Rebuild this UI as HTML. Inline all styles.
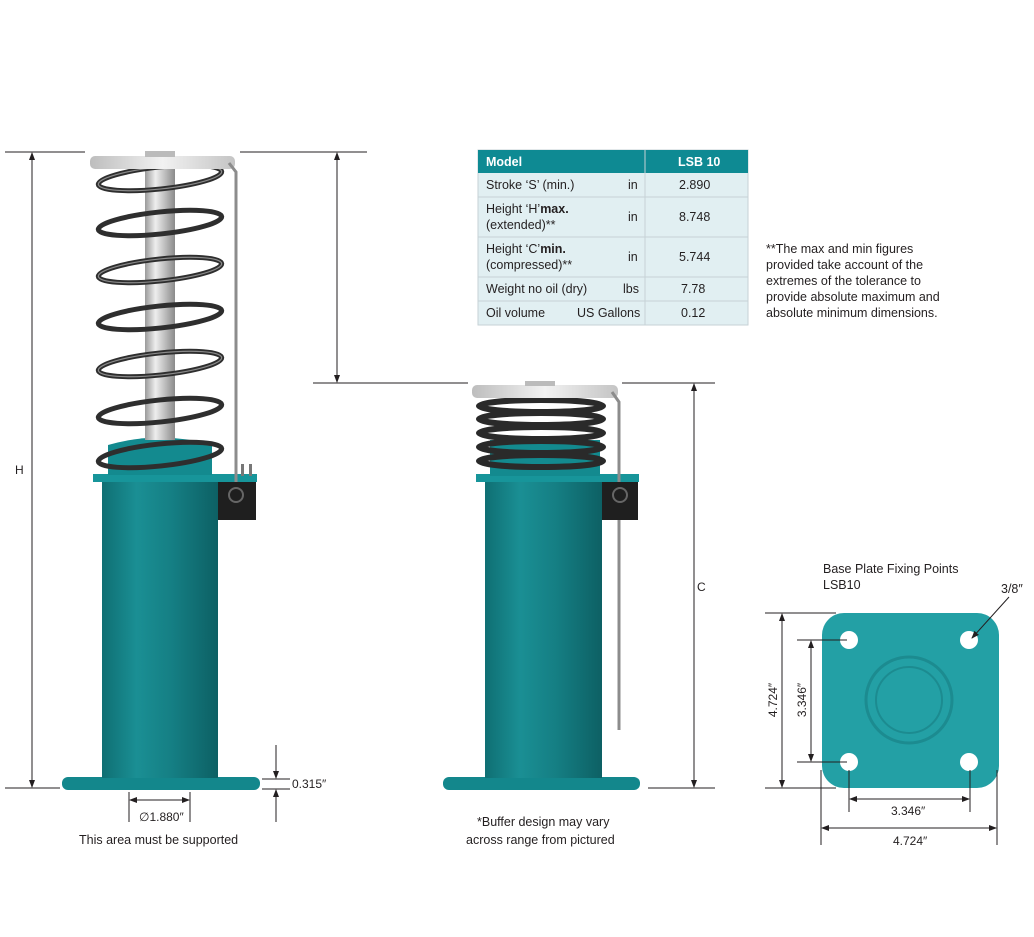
<!DOCTYPE html>
<html><head><meta charset="utf-8"><style>
body{margin:0;background:#fff;width:1034px;height:932px;overflow:hidden;font-family:"Liberation Sans",sans-serif;}
svg text{font-family:"Liberation Sans",sans-serif;fill:#231f20;}
</style></head><body>
<svg width="1034" height="932" viewBox="0 0 1034 932" xmlns="http://www.w3.org/2000/svg">
<defs>
<linearGradient id="teal" x1="0" x2="1" y1="0" y2="0">
<stop offset="0" stop-color="#0f6f73"/><stop offset="0.3" stop-color="#1a8f94"/><stop offset="0.6" stop-color="#157f84"/><stop offset="1" stop-color="#0d6064"/></linearGradient>
<linearGradient id="rod" x1="0" x2="1"><stop offset="0" stop-color="#9a9a9a"/><stop offset="0.35" stop-color="#eeeeee"/><stop offset="0.7" stop-color="#b8b8b8"/><stop offset="1" stop-color="#8a8a8a"/></linearGradient>
<linearGradient id="plate" x1="0" x2="1"><stop offset="0" stop-color="#bdbdbd"/><stop offset="0.5" stop-color="#f2f2f2"/><stop offset="1" stop-color="#c4c4c4"/></linearGradient>
<marker id="ar" markerWidth="8" markerHeight="8" refX="7" refY="4" orient="auto-start-reverse" markerUnits="userSpaceOnUse"><path d="M0,1 L8,4 L0,7 z" fill="#231f20"/></marker>
</defs>

<!-- dimension lines left -->
<g stroke="#231f20" stroke-width="1" fill="none">
<line x1="5" y1="152" x2="85" y2="152"/><line x1="240" y1="152" x2="367" y2="152"/>
<line x1="32" y1="153" x2="32" y2="787" marker-start="url(#ar)" marker-end="url(#ar)"/>
<line x1="5" y1="788" x2="60" y2="788"/>
<line x1="337" y1="153" x2="337" y2="382" marker-start="url(#ar)" marker-end="url(#ar)"/>
<line x1="313" y1="383" x2="468" y2="383"/><line x1="622" y1="383" x2="715" y2="383"/>
<line x1="694" y1="384" x2="694" y2="787" marker-start="url(#ar)" marker-end="url(#ar)"/>
<line x1="648" y1="788" x2="715" y2="788"/>
<!-- 0.315 -->
<line x1="262" y1="779" x2="290" y2="779"/><line x1="262" y1="789" x2="290" y2="789"/>
<line x1="276" y1="745" x2="276" y2="778" marker-end="url(#ar)"/>
<line x1="276" y1="822" x2="276" y2="790" marker-end="url(#ar)"/>
<!-- dia 1.880 -->
<line x1="129" y1="792" x2="129" y2="822"/><line x1="190" y1="792" x2="190" y2="822"/>
<line x1="130" y1="800" x2="189" y2="800" marker-start="url(#ar)" marker-end="url(#ar)"/>
</g>
<text x="15" y="474" font-size="12">H</text>
<text x="697" y="591" font-size="12">C</text>
<text x="292" y="788" font-size="12">0.315″</text>
<text x="139" y="821" font-size="12">∅1.880″</text>
<text x="79" y="844" font-size="12.5">This area must be supported</text>
<text x="477" y="826" font-size="12.5">*Buffer design may vary</text>
<text x="466" y="844" font-size="12.5">across range from pictured</text>

<!-- LEFT BUFFER -->
<rect x="62" y="777" width="198" height="13" rx="6" fill="#13878c"/>
<rect x="102" y="478" width="116" height="300" fill="url(#teal)"/>
<rect x="93" y="474" width="164" height="8" fill="#17959a"/>
<path d="M108,475 L108,445 Q160,430 212,445 L212,475 z" fill="#138a8f"/>
<rect x="145" y="165" width="30" height="275" fill="url(#rod)"/>
<g fill="none" stroke="#2e2e2e" stroke-width="5">
<ellipse cx="160" cy="178" rx="62" ry="11" transform="rotate(-6 160 178)"/>
<ellipse cx="160" cy="223" rx="62" ry="11" transform="rotate(-6 160 223)"/>
<ellipse cx="160" cy="270" rx="62" ry="11" transform="rotate(-6 160 270)"/>
<ellipse cx="160" cy="317" rx="62" ry="11" transform="rotate(-6 160 317)"/>
<ellipse cx="160" cy="364" rx="62" ry="11" transform="rotate(-6 160 364)"/>
<ellipse cx="160" cy="411" rx="62" ry="11" transform="rotate(-6 160 411)"/>
<ellipse cx="160" cy="455" rx="62" ry="11" transform="rotate(-6 160 455)"/>
</g>
<g fill="none" stroke="#8a8a8a" stroke-width="1.2">
<ellipse cx="160" cy="178" rx="62" ry="11" transform="rotate(-6 160 178)"/>
<ellipse cx="160" cy="270" rx="62" ry="11" transform="rotate(-6 160 270)"/>
<ellipse cx="160" cy="364" rx="62" ry="11" transform="rotate(-6 160 364)"/>
</g>
<rect x="90" y="156" width="145" height="13" rx="5" fill="url(#plate)"/>
<rect x="145" y="151" width="30" height="6" fill="#bbb"/>
<path d="M229,163 L236,172 L236,500" stroke="#8c8c8c" stroke-width="3" fill="none"/>
<rect x="218" y="482" width="38" height="38" fill="#1f1f1f"/>
<circle cx="236" cy="495" r="7" fill="none" stroke="#666" stroke-width="2"/>
<rect x="241" y="464" width="3" height="12" fill="#777"/><rect x="249" y="464" width="3" height="12" fill="#777"/>

<!-- RIGHT BUFFER -->
<rect x="443" y="777" width="197" height="13" rx="6" fill="#13878c"/>
<rect x="485" y="478" width="117" height="300" fill="url(#teal)"/>
<rect x="476" y="474" width="163" height="8" fill="#17959a"/>
<rect x="490" y="440" width="110" height="36" fill="#138a8f"/>
<g fill="none" stroke="#2a2a2a" stroke-width="6">
<ellipse cx="541" cy="406" rx="62" ry="6"/>
<ellipse cx="541" cy="419" rx="62" ry="6"/>
<ellipse cx="541" cy="433" rx="62" ry="6"/>
<ellipse cx="541" cy="447" rx="62" ry="6"/>
<ellipse cx="541" cy="461" rx="62" ry="6"/>
</g>
<rect x="472" y="385" width="146" height="13" rx="5" fill="url(#plate)"/>
<rect x="525" y="381" width="30" height="5" fill="#bbb"/>
<path d="M612,392 L619,402 L619,730" stroke="#8c8c8c" stroke-width="3" fill="none"/>
<rect x="602" y="482" width="36" height="38" fill="#1f1f1f"/>
<circle cx="620" cy="495" r="7" fill="none" stroke="#666" stroke-width="2"/>

<!-- TABLE -->
<rect x="478" y="150" width="270" height="175" fill="#e1eff2" stroke="#c6d2d6"/>
<rect x="478" y="150" width="270" height="23" fill="#0e8a93"/>
<g stroke="#c6d2d6" stroke-width="1">
<line x1="645" y1="150" x2="645" y2="325"/>
<line x1="478" y1="197" x2="748" y2="197"/><line x1="478" y1="237" x2="748" y2="237"/>
<line x1="478" y1="277" x2="748" y2="277"/><line x1="478" y1="301" x2="748" y2="301"/>
</g>
<g font-size="12.5">
<text x="486" y="166" font-weight="bold" style="fill:#fff">Model</text>
<text x="678" y="166" font-weight="bold" style="fill:#fff">LSB 10</text>
<text x="486" y="189">Stroke ‘S’ (min.)</text><text x="628" y="189">in</text><text x="679" y="189">2.890</text>
<text x="486" y="213">Height ‘H’<tspan font-weight="bold">max.</tspan></text><text x="486" y="229">(extended)**</text><text x="628" y="221">in</text><text x="679" y="221">8.748</text>
<text x="486" y="253">Height ‘C’<tspan font-weight="bold">min.</tspan></text><text x="486" y="269">(compressed)**</text><text x="628" y="261">in</text><text x="679" y="261">5.744</text>
<text x="486" y="293">Weight no oil (dry)</text><text x="623" y="293">lbs</text><text x="681" y="293">7.78</text>
<text x="486" y="317">Oil volume</text><text x="577" y="317">US Gallons</text><text x="681" y="317">0.12</text>
</g>
<g font-size="12.5">
<text x="766" y="253">**The max and min figures</text>
<text x="766" y="269">provided take account of the</text>
<text x="766" y="285">extremes of the tolerance to</text>
<text x="766" y="301">provide absolute maximum and</text>
<text x="766" y="317">absolute minimum dimensions.</text>
</g>

<!-- BASE PLATE -->
<text x="823" y="573" font-size="12.5">Base Plate Fixing Points</text>
<text x="823" y="589" font-size="12.5">LSB10</text>
<text x="1001" y="593" font-size="12.5">3/8″</text>
<rect x="822" y="613" width="177" height="175" rx="22" fill="#23a0a5"/>
<circle cx="909" cy="700" r="43" fill="none" stroke="#1c8b90" stroke-width="3"/>
<circle cx="909" cy="700" r="33" fill="none" stroke="#1c8b90" stroke-width="2"/>
<g fill="#fff"><circle cx="849" cy="640" r="9"/><circle cx="969" cy="640" r="9"/><circle cx="849" cy="762" r="9"/><circle cx="969" cy="762" r="9"/></g>
<g stroke="#231f20" stroke-width="1" fill="none">
<line x1="765" y1="613" x2="836" y2="613"/><line x1="765" y1="788" x2="836" y2="788"/>
<line x1="782" y1="614" x2="782" y2="787" marker-start="url(#ar)" marker-end="url(#ar)"/>
<line x1="797" y1="640" x2="847" y2="640"/><line x1="797" y1="762" x2="847" y2="762"/>
<line x1="811" y1="641" x2="811" y2="761" marker-start="url(#ar)" marker-end="url(#ar)"/>
<line x1="849" y1="770" x2="849" y2="812"/><line x1="970" y1="770" x2="970" y2="812"/>
<line x1="850" y1="799" x2="969" y2="799" marker-start="url(#ar)" marker-end="url(#ar)"/>
<line x1="821" y1="770" x2="821" y2="845"/><line x1="997" y1="770" x2="997" y2="845"/>
<line x1="822" y1="828" x2="996" y2="828" marker-start="url(#ar)" marker-end="url(#ar)"/>
<line x1="1009" y1="597" x2="972" y2="638" marker-end="url(#ar)"/>
</g>
<text x="891" y="815" font-size="12">3.346″</text>
<text x="893" y="845" font-size="12">4.724″</text>
<text transform="translate(777 700) rotate(-90)" font-size="12" text-anchor="middle">4.724″</text>
<text transform="translate(806 700) rotate(-90)" font-size="12" text-anchor="middle">3.346″</text>
</svg>
</body></html>
